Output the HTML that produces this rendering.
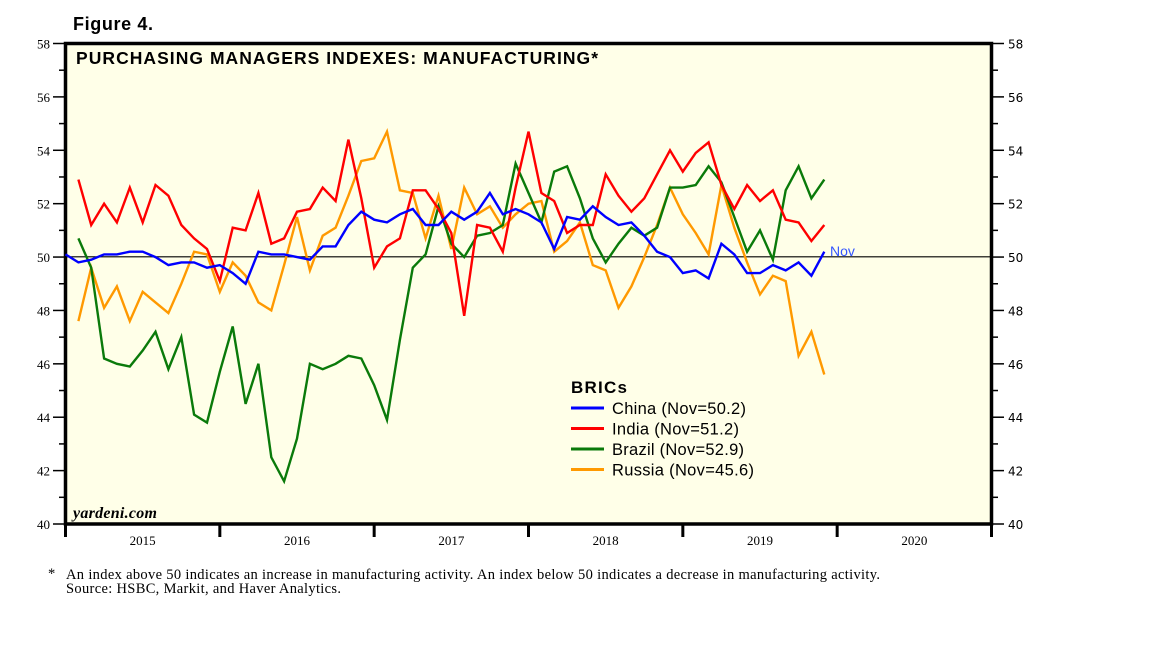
<!DOCTYPE html>
<html><head><meta charset="utf-8"><style>
html,body{margin:0;padding:0;background:#fff;width:1152px;height:648px;overflow:hidden}
svg{display:block}
</style></head><body>
<svg id="chart" width="1152" height="648" viewBox="0 0 1152 648" xmlns="http://www.w3.org/2000/svg">
<text x="73" y="30" font-family="Liberation Sans, sans-serif" font-weight="bold" font-size="18" textLength="80">Figure 4.</text>
<rect x="65.5" y="43.5" width="926" height="480.5" fill="#FFFFE8" stroke="#000" stroke-width="3.5"/>
<text x="76" y="64" font-family="Liberation Sans, sans-serif" font-weight="bold" font-size="17.5" textLength="522">PURCHASING MANAGERS INDEXES: MANUFACTURING*</text>
<g id="axes"></g>
<line x1="66" x2="991" y1="256.8" y2="256.8" stroke="#000" stroke-width="1.2"/>
<g id="series"></g>
<text x="830" y="256" font-family="Liberation Sans, sans-serif" font-size="14" fill="#3355ff">Nov</text>
<text x="73" y="518" font-family="Liberation Serif, serif" font-style="italic" font-weight="bold" font-size="16" textLength="84">yardeni.com</text>
<g font-family="Liberation Sans, sans-serif" font-size="16.5">
<text x="571" y="393" font-weight="bold" font-size="17" textLength="56">BRICs</text>
<line x1="571" x2="604" y1="408" y2="408" stroke="#0000ff" stroke-width="3"/>
<text x="612" y="414" textLength="134">China (Nov=50.2)</text>
<line x1="571" x2="604" y1="428.5" y2="428.5" stroke="#ff0000" stroke-width="3"/>
<text x="612" y="434.5" textLength="127">India (Nov=51.2)</text>
<line x1="571" x2="604" y1="449" y2="449" stroke="#0a7a0a" stroke-width="3"/>
<text x="612" y="455" textLength="132">Brazil (Nov=52.9)</text>
<line x1="571" x2="604" y1="469.5" y2="469.5" stroke="#ff9900" stroke-width="3"/>
<text x="612" y="475.5" textLength="142">Russia (Nov=45.6)</text>
</g>
<g font-family="Liberation Serif, serif" font-size="14.5">
<text x="48" y="578">*</text>
<text x="66" y="579" textLength="814">An index above 50 indicates an increase in manufacturing activity. An index below 50 indicates a decrease in manufacturing activity.</text>
<text x="66" y="593" textLength="275">Source: HSBC, Markit, and Haver Analytics.</text>
</g>
</svg>
<script>
const yTicks=[40,42,44,46,48,50,52,54,56,58];
const years=["2015","2016","2017","2018","2019","2020"];
// China starts Dec 2014 (month index -1); others start Jan 2015
const china=[50.1,49.8,49.9,50.1,50.1,50.2,50.2,50.0,49.7,49.8,49.8,49.6,49.7,49.4,49.0,50.2,50.1,50.1,50.0,49.9,50.4,50.4,51.2,51.7,51.4,51.3,51.6,51.8,51.2,51.2,51.7,51.4,51.7,52.4,51.6,51.8,51.6,51.3,50.3,51.5,51.4,51.9,51.5,51.2,51.3,50.8,50.2,50.0,49.4,49.5,49.2,50.5,50.1,49.4,49.4,49.7,49.5,49.8,49.3,50.2];
const india=[52.9,51.2,52.0,51.3,52.6,51.3,52.7,52.3,51.2,50.7,50.3,49.1,51.1,51.0,52.4,50.5,50.7,51.7,51.8,52.6,52.1,54.4,52.2,49.6,50.4,50.7,52.5,52.5,51.8,50.9,47.8,51.2,51.1,50.2,52.6,54.7,52.4,52.1,50.9,51.2,51.2,53.1,52.3,51.7,52.2,53.1,54.0,53.2,53.9,54.3,52.7,51.8,52.7,52.1,52.5,51.4,51.3,50.6,51.2];
const brazil=[50.7,49.6,46.2,46.0,45.9,46.5,47.2,45.8,47.0,44.1,43.8,45.7,47.4,44.5,46.0,42.5,41.6,43.2,46.0,45.8,46.0,46.3,46.2,45.2,43.9,46.9,49.6,50.1,51.9,50.5,50.0,50.8,50.9,51.2,53.5,52.4,51.3,53.2,53.4,52.2,50.7,49.8,50.5,51.1,50.8,51.1,52.6,52.6,52.7,53.4,52.8,51.5,50.2,51.0,49.9,52.5,53.4,52.2,52.9];
const russia=[47.6,49.6,48.1,48.9,47.6,48.7,48.3,47.9,49.0,50.2,50.1,48.7,49.8,49.3,48.3,48.0,49.7,51.5,49.5,50.8,51.1,52.3,53.6,53.7,54.7,52.5,52.4,50.7,52.3,50.3,52.6,51.6,51.9,51.1,51.6,52.0,52.1,50.2,50.6,51.3,49.7,49.5,48.1,48.9,50.0,51.2,52.6,51.6,50.9,50.1,52.7,51.1,49.8,48.6,49.3,49.1,46.3,47.2,45.6];

const NS="http://www.w3.org/2000/svg";
const X0=65.5,X1=991.5,Y0=524,Y1=43.5,VMIN=40,VMAX=58;
const monthW=(X1-X0)/72;
function xm(m){return X0+monthW*(m+1);}
function yv(v){return Y0-(v-VMIN)/(VMAX-VMIN)*(Y0-Y1);}
function mk(tag,attrs,parent){const e=document.createElementNS(NS,tag);for(const k in attrs)e.setAttribute(k,attrs[k]);parent.appendChild(e);return e;}
const axes=document.getElementById('axes');
yTicks.forEach((t,i)=>{
  const y=yv(t);
  let l=mk('line',{x1:53,x2:65,y1:y,y2:y,stroke:'#000','stroke-width':1.5},axes);
  
  
  let r=mk('line',{x1:992,x2:1004,y1:y,y2:y,stroke:'#000','stroke-width':1.5},axes);
  
  
  if(i<yTicks.length-1){const ym=yv(t+1);
    let lm=mk('line',{x1:59,x2:65,y1:ym,y2:ym,stroke:'#000','stroke-width':1.5},axes);
    
    
    let rm=mk('line',{x1:992,x2:998,y1:ym,y2:ym,stroke:'#000','stroke-width':1.5},axes);
    
    }
  let tl=mk('text',{x:50,y:y+5,'text-anchor':'end','font-family':'Liberation Serif, serif','font-size':13},axes);
  tl.textContent=t;
  
  
  let tr=mk('text',{x:1008,y:y+5,'font-family':'DejaVu Sans, sans-serif','font-size':12},axes);
  tr.textContent=t;
  
  
});
for(let k=0;k<=years.length;k++){
  const x=X0+k*12*monthW;
  let t=mk('line',{x1:x,x2:x,y1:Y0,y2:537,stroke:'#000','stroke-width':3},axes);
  
  
}
years.forEach((yr,k)=>{
  let t=mk('text',{x:X0+(k+0.5)*12*monthW,y:545,'text-anchor':'middle','font-family':'Liberation Serif, serif','font-size':13},axes);
  t.textContent=yr;
  
  
});
const sg=document.getElementById('series');
function draw(arr,start,color,name){
  const pts=arr.map((v,i)=>xm(start+i).toFixed(1)+','+yv(v).toFixed(1)).join(' ');
  const p=mk('polyline',{points:pts,fill:'none',stroke:color,'stroke-width':2.4,'stroke-linejoin':'miter'},sg);
  
  
}
draw(russia,0,'#ff9900','russia-line');
draw(brazil,0,'#0a7a0a','brazil-line');
draw(india,0,'#ff0000','india-line');
draw(china,-1,'#0000ff','china-line');
</script>
</body></html>
